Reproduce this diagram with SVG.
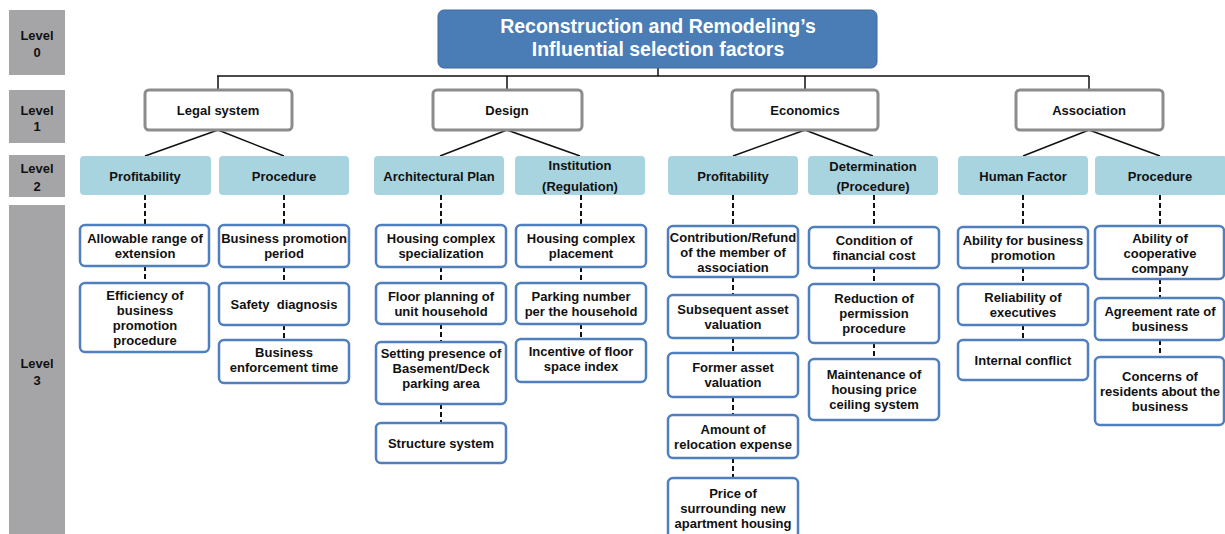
<svg xmlns="http://www.w3.org/2000/svg" width="1225" height="534" viewBox="0 0 1225 534">
<style>
text{font-family:"Liberation Sans",Arial,sans-serif;font-weight:bold;fill:#111;text-anchor:middle;font-size:13px}
.lvl{fill:#a5a5a8}
.title{fill:#4a7cb6;stroke:#41699c;stroke-width:1}
.ttxt{fill:#fff;font-size:19.5px}
.l1{fill:#fff;stroke:#8c8c8c;stroke-width:3}
.l2{fill:#a8d4df}
.l3{fill:#fff;stroke:#4f7fbf;stroke-width:2.5}
.tree{stroke:#111;stroke-width:1.5;fill:none}
.dash{stroke:#111;stroke-width:2;stroke-dasharray:5 3;fill:none}
</style>
<rect width="1225" height="534" fill="#fff"/>
<g id="levels">
<rect class="lvl" x="9" y="10" width="56" height="65"/>
<text x="37" y="40">Level</text><text x="37" y="57">0</text>
<rect class="lvl" x="9" y="90" width="56" height="53"/>
<text x="37" y="115">Level</text><text x="37" y="131">1</text>
<rect class="lvl" x="9" y="155" width="56" height="42"/>
<text x="37" y="173">Level</text><text x="37" y="191">2</text>
<rect class="lvl" x="9" y="205" width="56" height="335"/>
<text x="37" y="368">Level</text><text x="37" y="385">3</text>
</g>
<g id="connectors">
<path class="tree" d="M658 68V76M217 76H1089M218 76V90M507 76V90M805 76V90M1089 76V90"/>
<path class="tree" d="M218 130L145 156M218 130L284 156M507 130L440 156M507 130L580 156M805 130L733 156M805 130L873 156M1089 130L1023 156M1089 130L1160 156"/>
<path class="dash" d="M145 195V225M145 266V283"/>
<path class="dash" d="M284 195V225M284 267V283M284 325V340"/>
<path class="dash" d="M441 195V225M441 267V283M441 324V342M441 404V423"/>
<path class="dash" d="M581 195V225M581 267V283M581 324V339"/>
<path class="dash" d="M733 195V226M733 277V295M733 338V353M733 397V415M733 458V478"/>
<path class="dash" d="M874 195V227M874 268V284M874 343V359"/>
<path class="dash" d="M1023 195V227M1023 268V284M1023 325V340"/>
<path class="dash" d="M1160 195V226M1160 279V298M1160 340V357"/>
</g>
<g id="root">
<rect class="title" x="438" y="10" width="439" height="58" rx="6"/>
<text class="ttxt" x="658" y="33">Reconstruction and Remodeling’s</text>
<text class="ttxt" x="658" y="56">Influential selection factors</text>
</g>
<g id="legal"><rect class="l1" x="145" y="90" width="147" height="40" rx="4"/><text x="218" y="115">Legal system</text></g>
<g id="design"><rect class="l1" x="433" y="90" width="149" height="40" rx="4"/><text x="507" y="115">Design</text></g>
<g id="economics"><rect class="l1" x="732" y="90" width="146" height="40" rx="4"/><text x="805" y="115">Economics</text></g>
<g id="association"><rect class="l1" x="1016" y="90" width="147" height="40" rx="4"/><text x="1089" y="115">Association</text></g>
<g id="legal-profitability"><rect class="l2" x="80" y="156" width="131" height="39" rx="4"/><text x="145" y="181">Profitability</text></g>
<g id="legal-procedure"><rect class="l2" x="219" y="156" width="130" height="39" rx="4"/><text x="284" y="181">Procedure</text></g>
<g id="arch-plan"><rect class="l2" x="374" y="156" width="130" height="39" rx="4"/><text x="439" y="181">Architectural Plan</text></g>
<g id="institution"><rect class="l2" x="515" y="156" width="130" height="39" rx="4"/><text x="580" y="170">Institution</text><text x="580" y="191">(Regulation)</text></g>
<g id="econ-profitability"><rect class="l2" x="668" y="156" width="130" height="39" rx="4"/><text x="733" y="181">Profitability</text></g>
<g id="determination"><rect class="l2" x="808" y="156" width="130" height="39" rx="4"/><text x="873" y="171">Determination</text><text x="873" y="191">(Procedure)</text></g>
<g id="human-factor"><rect class="l2" x="958" y="156" width="130" height="39" rx="4"/><text x="1023" y="181">Human Factor</text></g>
<g id="assoc-procedure"><rect class="l2" x="1095" y="156" width="132" height="39" rx="4"/><text x="1160" y="181">Procedure</text></g>

<g id="n-allowable"><rect class="l3" x="80" y="225" width="129" height="41" rx="5"/><text x="145" y="243">Allowable range of</text><text x="145" y="258">extension</text></g>
<g id="n-efficiency"><rect class="l3" x="80" y="283" width="129" height="69" rx="5"/><text x="145" y="300">Efficiency of</text><text x="145" y="315">business</text><text x="145" y="330">promotion</text><text x="145" y="345">procedure</text></g>
<g id="n-period"><rect class="l3" x="219" y="225" width="130" height="42" rx="5"/><text x="284" y="243">Business promotion</text><text x="284" y="258">period</text></g>
<g id="n-safety"><rect class="l3" x="219" y="283" width="130" height="42" rx="5"/><text x="284" y="309">Safety&#160; diagnosis</text></g>
<g id="n-enforcement"><rect class="l3" x="219" y="340" width="130" height="43" rx="5"/><text x="284" y="357">Business</text><text x="284" y="372">enforcement time</text></g>

<g id="n-specialization"><rect class="l3" x="376" y="225" width="130" height="42" rx="5"/><text x="441" y="243">Housing complex</text><text x="441" y="258">specialization</text></g>
<g id="n-floor"><rect class="l3" x="376" y="283" width="130" height="41" rx="5"/><text x="441" y="301">Floor planning of</text><text x="441" y="316">unit household</text></g>
<g id="n-basement"><rect class="l3" x="376" y="342" width="130" height="62" rx="5"/><text x="441" y="358">Setting presence of</text><text x="441" y="373">Basement/Deck</text><text x="441" y="388">parking area</text></g>
<g id="n-structure"><rect class="l3" x="376" y="423" width="130" height="40" rx="5"/><text x="441" y="448">Structure system</text></g>
<g id="n-placement"><rect class="l3" x="516" y="225" width="130" height="42" rx="5"/><text x="581" y="243">Housing complex</text><text x="581" y="258">placement</text></g>
<g id="n-parking"><rect class="l3" x="516" y="283" width="130" height="41" rx="5"/><text x="581" y="301">Parking number</text><text x="581" y="316">per the household</text></g>
<g id="n-incentive"><rect class="l3" x="516" y="339" width="130" height="43" rx="5"/><text x="581" y="356">Incentive of floor</text><text x="581" y="371">space index</text></g>

<g id="n-contribution"><rect class="l3" x="668" y="226" width="130" height="51" rx="5"/><text x="733" y="242">Contribution/Refund</text><text x="733" y="257">of the member of</text><text x="733" y="272">association</text></g>
<g id="n-subsequent"><rect class="l3" x="668" y="295" width="130" height="43" rx="5"/><text x="733" y="314">Subsequent asset</text><text x="733" y="329">valuation</text></g>
<g id="n-former"><rect class="l3" x="668" y="353" width="130" height="44" rx="5"/><text x="733" y="372">Former asset</text><text x="733" y="387">valuation</text></g>
<g id="n-relocation"><rect class="l3" x="668" y="415" width="130" height="43" rx="5"/><text x="733" y="434">Amount of</text><text x="733" y="449">relocation expense</text></g>
<g id="n-price"><rect class="l3" x="668" y="478" width="130" height="60" rx="5"/><text x="733" y="498">Price of</text><text x="733" y="513">surrounding new</text><text x="733" y="528">apartment housing</text></g>
<g id="n-financial"><rect class="l3" x="809" y="227" width="130" height="41" rx="5"/><text x="874" y="245">Condition of</text><text x="874" y="260">financial cost</text></g>
<g id="n-permission"><rect class="l3" x="809" y="284" width="130" height="59" rx="5"/><text x="874" y="303">Reduction of</text><text x="874" y="318">permission</text><text x="874" y="333">procedure</text></g>
<g id="n-ceiling"><rect class="l3" x="809" y="359" width="130" height="61" rx="5"/><text x="874" y="379">Maintenance of</text><text x="874" y="394">housing price</text><text x="874" y="409">ceiling system</text></g>

<g id="n-ability"><rect class="l3" x="958" y="227" width="130" height="41" rx="5"/><text x="1023" y="245">Ability for business</text><text x="1023" y="260">promotion</text></g>
<g id="n-reliability"><rect class="l3" x="958" y="284" width="130" height="41" rx="5"/><text x="1023" y="302">Reliability of</text><text x="1023" y="317">executives</text></g>
<g id="n-conflict"><rect class="l3" x="958" y="340" width="130" height="40" rx="5"/><text x="1023" y="365">Internal conflict</text></g>
<g id="n-cooperative"><rect class="l3" x="1095" y="226" width="129" height="53" rx="5"/><text x="1160" y="243">Ability of</text><text x="1160" y="258">cooperative</text><text x="1160" y="273">company</text></g>
<g id="n-agreement"><rect class="l3" x="1095" y="298" width="129" height="42" rx="5"/><text x="1160" y="316">Agreement rate of</text><text x="1160" y="331">business</text></g>
<g id="n-concerns"><rect class="l3" x="1095" y="357" width="129" height="68" rx="5"/><text x="1160" y="381">Concerns of</text><text x="1160" y="396">residents about the</text><text x="1160" y="411">business</text></g>
</svg>
